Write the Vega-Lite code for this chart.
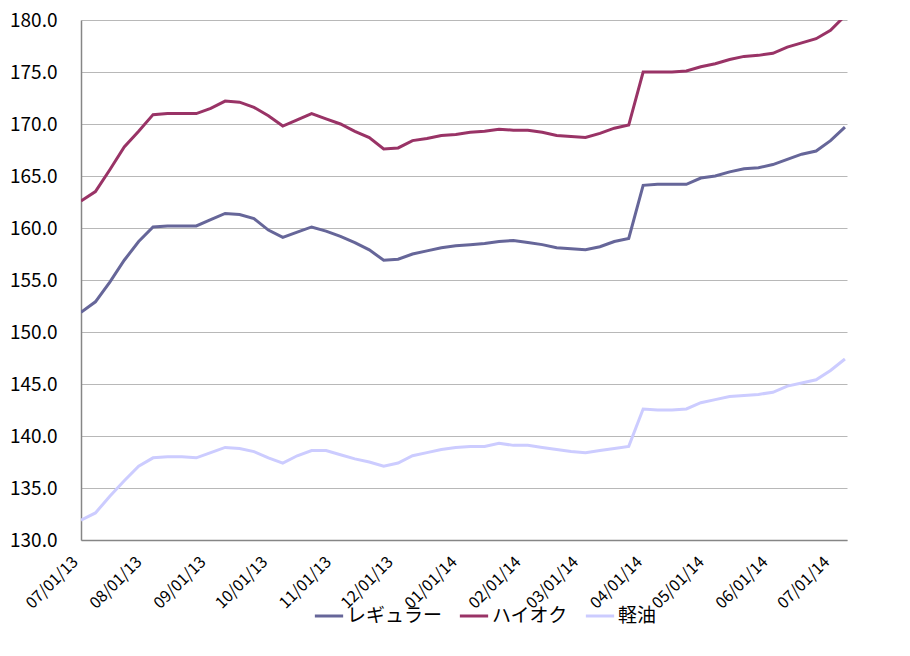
{
  "$schema": "https://vega.github.io/schema/vega-lite/v6.json",
  "autosize": {"type": "none"},
  "padding": {"left": 81, "top": 20, "right": 63, "bottom": 96},
  "width": 766,
  "height": 520,
  "background": "white",
  "datasets": {
    "prices": [
      {"date": "2013-07-01", "type": "レギュラー", "price": 151.9},
      {"date": "2013-07-08", "type": "レギュラー", "price": 152.9},
      {"date": "2013-07-15", "type": "レギュラー", "price": 154.8},
      {"date": "2013-07-22", "type": "レギュラー", "price": 156.9},
      {"date": "2013-07-29", "type": "レギュラー", "price": 158.7},
      {"date": "2013-08-05", "type": "レギュラー", "price": 160.1},
      {"date": "2013-08-12", "type": "レギュラー", "price": 160.2},
      {"date": "2013-08-19", "type": "レギュラー", "price": 160.2},
      {"date": "2013-08-26", "type": "レギュラー", "price": 160.2},
      {"date": "2013-09-02", "type": "レギュラー", "price": 160.8},
      {"date": "2013-09-09", "type": "レギュラー", "price": 161.4},
      {"date": "2013-09-16", "type": "レギュラー", "price": 161.3},
      {"date": "2013-09-23", "type": "レギュラー", "price": 160.9},
      {"date": "2013-09-30", "type": "レギュラー", "price": 159.8},
      {"date": "2013-10-07", "type": "レギュラー", "price": 159.1},
      {"date": "2013-10-14", "type": "レギュラー", "price": 159.6},
      {"date": "2013-10-21", "type": "レギュラー", "price": 160.1},
      {"date": "2013-10-28", "type": "レギュラー", "price": 159.7},
      {"date": "2013-11-04", "type": "レギュラー", "price": 159.2},
      {"date": "2013-11-11", "type": "レギュラー", "price": 158.6},
      {"date": "2013-11-18", "type": "レギュラー", "price": 157.9},
      {"date": "2013-11-25", "type": "レギュラー", "price": 156.9},
      {"date": "2013-12-02", "type": "レギュラー", "price": 157.0},
      {"date": "2013-12-09", "type": "レギュラー", "price": 157.5},
      {"date": "2013-12-16", "type": "レギュラー", "price": 157.8},
      {"date": "2013-12-23", "type": "レギュラー", "price": 158.1},
      {"date": "2013-12-30", "type": "レギュラー", "price": 158.3},
      {"date": "2014-01-06", "type": "レギュラー", "price": 158.4},
      {"date": "2014-01-13", "type": "レギュラー", "price": 158.5},
      {"date": "2014-01-20", "type": "レギュラー", "price": 158.7},
      {"date": "2014-01-27", "type": "レギュラー", "price": 158.8},
      {"date": "2014-02-03", "type": "レギュラー", "price": 158.6},
      {"date": "2014-02-10", "type": "レギュラー", "price": 158.4},
      {"date": "2014-02-17", "type": "レギュラー", "price": 158.1},
      {"date": "2014-02-24", "type": "レギュラー", "price": 158.0},
      {"date": "2014-03-03", "type": "レギュラー", "price": 157.9},
      {"date": "2014-03-10", "type": "レギュラー", "price": 158.2},
      {"date": "2014-03-17", "type": "レギュラー", "price": 158.7},
      {"date": "2014-03-24", "type": "レギュラー", "price": 159.0},
      {"date": "2014-03-31", "type": "レギュラー", "price": 164.1},
      {"date": "2014-04-07", "type": "レギュラー", "price": 164.2},
      {"date": "2014-04-14", "type": "レギュラー", "price": 164.2},
      {"date": "2014-04-21", "type": "レギュラー", "price": 164.2},
      {"date": "2014-04-28", "type": "レギュラー", "price": 164.8},
      {"date": "2014-05-05", "type": "レギュラー", "price": 165.0},
      {"date": "2014-05-12", "type": "レギュラー", "price": 165.4},
      {"date": "2014-05-19", "type": "レギュラー", "price": 165.7},
      {"date": "2014-05-26", "type": "レギュラー", "price": 165.8},
      {"date": "2014-06-02", "type": "レギュラー", "price": 166.1},
      {"date": "2014-06-09", "type": "レギュラー", "price": 166.6},
      {"date": "2014-06-16", "type": "レギュラー", "price": 167.1},
      {"date": "2014-06-23", "type": "レギュラー", "price": 167.4},
      {"date": "2014-06-30", "type": "レギュラー", "price": 168.4},
      {"date": "2014-07-07", "type": "レギュラー", "price": 169.7},

      {"date": "2013-07-01", "type": "ハイオク", "price": 162.6},
      {"date": "2013-07-08", "type": "ハイオク", "price": 163.5},
      {"date": "2013-07-15", "type": "ハイオク", "price": 165.6},
      {"date": "2013-07-22", "type": "ハイオク", "price": 167.8},
      {"date": "2013-07-29", "type": "ハイオク", "price": 169.3},
      {"date": "2013-08-05", "type": "ハイオク", "price": 170.9},
      {"date": "2013-08-12", "type": "ハイオク", "price": 171.0},
      {"date": "2013-08-19", "type": "ハイオク", "price": 171.0},
      {"date": "2013-08-26", "type": "ハイオク", "price": 171.0},
      {"date": "2013-09-02", "type": "ハイオク", "price": 171.5},
      {"date": "2013-09-09", "type": "ハイオク", "price": 172.2},
      {"date": "2013-09-16", "type": "ハイオク", "price": 172.1},
      {"date": "2013-09-23", "type": "ハイオク", "price": 171.6},
      {"date": "2013-09-30", "type": "ハイオク", "price": 170.8},
      {"date": "2013-10-07", "type": "ハイオク", "price": 169.8},
      {"date": "2013-10-14", "type": "ハイオク", "price": 170.4},
      {"date": "2013-10-21", "type": "ハイオク", "price": 171.0},
      {"date": "2013-10-28", "type": "ハイオク", "price": 170.5},
      {"date": "2013-11-04", "type": "ハイオク", "price": 170.0},
      {"date": "2013-11-11", "type": "ハイオク", "price": 169.3},
      {"date": "2013-11-18", "type": "ハイオク", "price": 168.7},
      {"date": "2013-11-25", "type": "ハイオク", "price": 167.6},
      {"date": "2013-12-02", "type": "ハイオク", "price": 167.7},
      {"date": "2013-12-09", "type": "ハイオク", "price": 168.4},
      {"date": "2013-12-16", "type": "ハイオク", "price": 168.6},
      {"date": "2013-12-23", "type": "ハイオク", "price": 168.9},
      {"date": "2013-12-30", "type": "ハイオク", "price": 169.0},
      {"date": "2014-01-06", "type": "ハイオク", "price": 169.2},
      {"date": "2014-01-13", "type": "ハイオク", "price": 169.3},
      {"date": "2014-01-20", "type": "ハイオク", "price": 169.5},
      {"date": "2014-01-27", "type": "ハイオク", "price": 169.4},
      {"date": "2014-02-03", "type": "ハイオク", "price": 169.4},
      {"date": "2014-02-10", "type": "ハイオク", "price": 169.2},
      {"date": "2014-02-17", "type": "ハイオク", "price": 168.9},
      {"date": "2014-02-24", "type": "ハイオク", "price": 168.8},
      {"date": "2014-03-03", "type": "ハイオク", "price": 168.7},
      {"date": "2014-03-10", "type": "ハイオク", "price": 169.1},
      {"date": "2014-03-17", "type": "ハイオク", "price": 169.6},
      {"date": "2014-03-24", "type": "ハイオク", "price": 169.9},
      {"date": "2014-03-31", "type": "ハイオク", "price": 175.0},
      {"date": "2014-04-07", "type": "ハイオク", "price": 175.0},
      {"date": "2014-04-14", "type": "ハイオク", "price": 175.0},
      {"date": "2014-04-21", "type": "ハイオク", "price": 175.1},
      {"date": "2014-04-28", "type": "ハイオク", "price": 175.5},
      {"date": "2014-05-05", "type": "ハイオク", "price": 175.8},
      {"date": "2014-05-12", "type": "ハイオク", "price": 176.2},
      {"date": "2014-05-19", "type": "ハイオク", "price": 176.5},
      {"date": "2014-05-26", "type": "ハイオク", "price": 176.6},
      {"date": "2014-06-02", "type": "ハイオク", "price": 176.8},
      {"date": "2014-06-09", "type": "ハイオク", "price": 177.4},
      {"date": "2014-06-16", "type": "ハイオク", "price": 177.8},
      {"date": "2014-06-23", "type": "ハイオク", "price": 178.2},
      {"date": "2014-06-30", "type": "ハイオク", "price": 179.0},
      {"date": "2014-07-07", "type": "ハイオク", "price": 180.4},

      {"date": "2013-07-01", "type": "軽油", "price": 131.9},
      {"date": "2013-07-08", "type": "軽油", "price": 132.6},
      {"date": "2013-07-15", "type": "軽油", "price": 134.2},
      {"date": "2013-07-22", "type": "軽油", "price": 135.7},
      {"date": "2013-07-29", "type": "軽油", "price": 137.1},
      {"date": "2013-08-05", "type": "軽油", "price": 137.9},
      {"date": "2013-08-12", "type": "軽油", "price": 138.0},
      {"date": "2013-08-19", "type": "軽油", "price": 138.0},
      {"date": "2013-08-26", "type": "軽油", "price": 137.9},
      {"date": "2013-09-02", "type": "軽油", "price": 138.4},
      {"date": "2013-09-09", "type": "軽油", "price": 138.9},
      {"date": "2013-09-16", "type": "軽油", "price": 138.8},
      {"date": "2013-09-23", "type": "軽油", "price": 138.5},
      {"date": "2013-09-30", "type": "軽油", "price": 137.9},
      {"date": "2013-10-07", "type": "軽油", "price": 137.4},
      {"date": "2013-10-14", "type": "軽油", "price": 138.1},
      {"date": "2013-10-21", "type": "軽油", "price": 138.6},
      {"date": "2013-10-28", "type": "軽油", "price": 138.6},
      {"date": "2013-11-04", "type": "軽油", "price": 138.2},
      {"date": "2013-11-11", "type": "軽油", "price": 137.8},
      {"date": "2013-11-18", "type": "軽油", "price": 137.5},
      {"date": "2013-11-25", "type": "軽油", "price": 137.1},
      {"date": "2013-12-02", "type": "軽油", "price": 137.4},
      {"date": "2013-12-09", "type": "軽油", "price": 138.1},
      {"date": "2013-12-16", "type": "軽油", "price": 138.4},
      {"date": "2013-12-23", "type": "軽油", "price": 138.7},
      {"date": "2013-12-30", "type": "軽油", "price": 138.9},
      {"date": "2014-01-06", "type": "軽油", "price": 139.0},
      {"date": "2014-01-13", "type": "軽油", "price": 139.0},
      {"date": "2014-01-20", "type": "軽油", "price": 139.3},
      {"date": "2014-01-27", "type": "軽油", "price": 139.1},
      {"date": "2014-02-03", "type": "軽油", "price": 139.1},
      {"date": "2014-02-10", "type": "軽油", "price": 138.9},
      {"date": "2014-02-17", "type": "軽油", "price": 138.7},
      {"date": "2014-02-24", "type": "軽油", "price": 138.5},
      {"date": "2014-03-03", "type": "軽油", "price": 138.4},
      {"date": "2014-03-10", "type": "軽油", "price": 138.6},
      {"date": "2014-03-17", "type": "軽油", "price": 138.8},
      {"date": "2014-03-24", "type": "軽油", "price": 139.0},
      {"date": "2014-03-31", "type": "軽油", "price": 142.6},
      {"date": "2014-04-07", "type": "軽油", "price": 142.5},
      {"date": "2014-04-14", "type": "軽油", "price": 142.5},
      {"date": "2014-04-21", "type": "軽油", "price": 142.6},
      {"date": "2014-04-28", "type": "軽油", "price": 143.2},
      {"date": "2014-05-05", "type": "軽油", "price": 143.5},
      {"date": "2014-05-12", "type": "軽油", "price": 143.8},
      {"date": "2014-05-19", "type": "軽油", "price": 143.9},
      {"date": "2014-05-26", "type": "軽油", "price": 144.0},
      {"date": "2014-06-02", "type": "軽油", "price": 144.2},
      {"date": "2014-06-09", "type": "軽油", "price": 144.8},
      {"date": "2014-06-16", "type": "軽油", "price": 145.1},
      {"date": "2014-06-23", "type": "軽油", "price": 145.4},
      {"date": "2014-06-30", "type": "軽油", "price": 146.3},
      {"date": "2014-07-07", "type": "軽油", "price": 147.4}
    ]
  },
  "data": {"name": "prices"},
  "mark": {"type": "line", "strokeWidth": 3, "clip": true},
  "encoding": {
    "x": {
      "field": "date",
      "type": "temporal",
      "scale": {"type": "utc", "domain": [{"year": 2013, "month": 7, "date": 1, "utc": true}, {"year": 2014, "month": 7, "date": 8, "utc": true}], "nice": false},
      "axis": {
        "title": null,
        "format": "%m/%d/%y",
        "formatType": "time",
        "tickCount": {"interval": "month", "step": 1},
        "labelAngle": -45,
        "labelAlign": "right",
        "labelBaseline": "middle",
        "labelFontSize": 16,
        "labelPadding": 19,
        "labelOffset": -6,
        "labelOverlap": false,
        "labelFlush": false,
        "ticks": false,
        "grid": false,
        "domainColor": "#868686",
        "domainWidth": 1.5
      }
    },
    "y": {
      "field": "price",
      "type": "quantitative",
      "scale": {"domain": [130, 180], "nice": false, "zero": false},
      "axis": {
        "title": null,
        "values": [130, 135, 140, 145, 150, 155, 160, 165, 170, 175, 180],
        "format": ".1f",
        "labelFontSize": 19,
        "labelPadding": 24,
        "ticks": false,
        "grid": true,
        "gridColor": "#B8B8B8",
        "gridWidth": 1,
        "domainColor": "#868686",
        "domainWidth": 1.5
      }
    },
    "color": {
      "field": "type",
      "type": "nominal",
      "scale": {"domain": ["レギュラー", "ハイオク", "軽油"], "range": ["#666699", "#993366", "#CCCCFF"]},
      "legend": {
        "title": null,
        "orient": "none",
        "legendX": 232,
        "legendY": 580,
        "direction": "horizontal",
        "symbolType": "stroke",
        "symbolSize": 800,
        "symbolStrokeWidth": 3,
        "labelFontSize": 19,
        "labelOffset": 2,
        "columnPadding": 10
      }
    }
  },
  "config": {
    "font": "Noto Sans CJK JP",
    "view": {"stroke": null},
    "axis": {"labelColor": "#000000", "labelFont": "Noto Sans CJK JP"},
    "legend": {"labelColor": "#000000", "labelFont": "Noto Sans CJK JP"}
  }
}
